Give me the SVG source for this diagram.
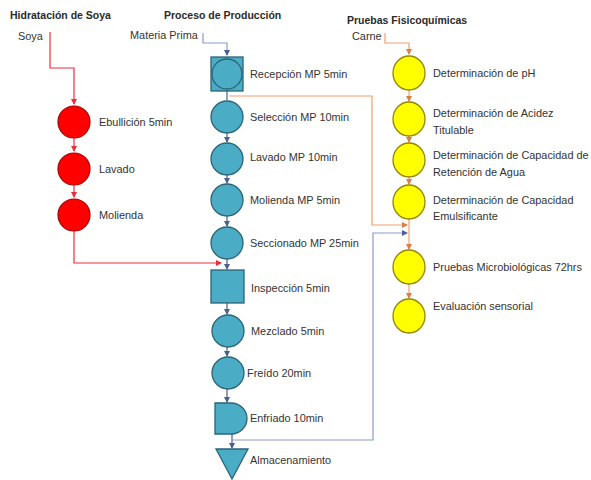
<svg xmlns="http://www.w3.org/2000/svg" width="591" height="480" viewBox="0 0 591 480">
<defs>
<style>
.t{font-family:"Liberation Sans",Arial,sans-serif;font-size:10.9px;fill:#333}
.h{font-family:"Liberation Sans",Arial,sans-serif;font-size:10.5px;font-weight:bold;fill:#2a2a2a}
.b{fill:#4BACC6;stroke:#2A6477;stroke-width:1.3}
.r{fill:#FF0000;stroke:#A80000;stroke-width:1.2}
.y{fill:#FFFF00;stroke:#958500;stroke-width:1.3}
.cr{fill:none;stroke:#E8303A;stroke-width:1.2}
.cb{fill:none;stroke:#4A6090;stroke-width:1.2}
.cbl{fill:none;stroke:#8A9CC8;stroke-width:1.2}
.co{fill:none;stroke:#F0A070;stroke-width:1.2}
</style>
<marker id="ar" markerWidth="6" markerHeight="6" refX="5" refY="3" orient="auto" markerUnits="userSpaceOnUse"><path d="M0,0 L6,3 L0,6 z" fill="#E8303A"/></marker>
<marker id="ab" markerWidth="6" markerHeight="6" refX="5" refY="3" orient="auto" markerUnits="userSpaceOnUse"><path d="M0,0 L6,3 L0,6 z" fill="#4A6090"/></marker>
<marker id="abl" markerWidth="6" markerHeight="6" refX="5" refY="3" orient="auto" markerUnits="userSpaceOnUse"><path d="M0,0 L6,3 L0,6 z" fill="#4A5FA8"/></marker>
<marker id="ao" markerWidth="6" markerHeight="6" refX="5" refY="3" orient="auto" markerUnits="userSpaceOnUse"><path d="M0,0 L6,3 L0,6 z" fill="#D8804A"/></marker>
</defs>
<rect width="591" height="480" fill="#fff"/>

<g id="titles">
<text class="h" x="10" y="19">Hidratación de Soya</text>
<text class="h" x="164" y="19">Proceso de Producción</text>
<text class="h" x="347" y="24">Pruebas Fisicoquímicas</text>
<text class="t" x="18" y="40">Soya</text>
<text class="t" x="130" y="39">Materia Prima</text>
<text class="t" x="352" y="40">Carne</text>
</g>

<g id="connectors">
<path class="cr" d="M50,32 V68 H74 V104" marker-end="url(#ar)"/>
<path class="cr" d="M74,138 V151" marker-end="url(#ar)"/>
<path class="cr" d="M74,185 V197" marker-end="url(#ar)"/>
<path class="cr" d="M74,231 V263 H221" marker-end="url(#ar)"/>

<path class="cbl" d="M203,33 V43 H227 V55" marker-end="url(#ab)"/>
<path class="cb" d="M227,91 V100"/>
<path class="cb" d="M227,133 V142" marker-end="url(#ab)"/>
<path class="cb" d="M227,175 V183" marker-end="url(#ab)"/>
<path class="cb" d="M227,216 V226" marker-end="url(#ab)"/>
<path class="cb" d="M227,259 V269" marker-end="url(#ab)"/>
<path class="cb" d="M227,303 V314" marker-end="url(#ab)"/>
<path class="cb" d="M227,347 V356" marker-end="url(#ab)"/>
<path class="cb" d="M227,389 V402" marker-end="url(#ab)"/>
<path class="cb" d="M232,434 V448" marker-end="url(#ab)"/>
<path class="cbl" d="M232,440 H373 V233 H407" marker-end="url(#abl)"/>

<path class="co" d="M229,96 H372 V225 H407" marker-end="url(#ao)"/>
<path class="co" d="M385,33 V43 H409 V54" marker-end="url(#ao)"/>
<path class="co" d="M409,90 V101" marker-end="url(#ao)"/>
<path class="co" d="M409,136 V142" marker-end="url(#ao)"/>
<path class="co" d="M409,177 V184" marker-end="url(#ao)"/>
<path class="co" d="M409,219 V249" marker-end="url(#ao)"/>
<path class="co" d="M409,284 V298" marker-end="url(#ao)"/>
</g>

<g id="ebullicion"><circle class="r" cx="74" cy="122" r="16"/><text class="t" x="99" y="126">Ebullición 5min</text></g>
<g id="lavado-soya"><circle class="r" cx="74" cy="169" r="16"/><text class="t" x="99" y="173">Lavado</text></g>
<g id="molienda-soya"><circle class="r" cx="74" cy="215" r="16"/><text class="t" x="99" y="219">Molienda</text></g>

<g id="recepcion"><rect class="b" x="211" y="57" width="32" height="34"/><circle class="b" cx="227" cy="74" r="15"/><text class="t" x="250" y="78">Recepción MP 5min</text></g>
<g id="seleccion"><circle class="b" cx="227" cy="117" r="16"/><text class="t" x="250" y="121">Selección MP 10min</text></g>
<g id="lavado-mp"><circle class="b" cx="227" cy="159" r="16"/><text class="t" x="250" y="161">Lavado MP 10min</text></g>
<g id="molienda-mp"><circle class="b" cx="227" cy="200" r="16"/><text class="t" x="250" y="204">Molienda MP 5min</text></g>
<g id="seccionado"><circle class="b" cx="227" cy="243" r="16"/><text class="t" x="250" y="247">Seccionado MP 25min</text></g>
<g id="inspeccion"><rect class="b" x="211" y="270" width="33" height="33"/><text class="t" x="251" y="292">Inspección 5min</text></g>
<g id="mezclado"><circle class="b" cx="228" cy="331" r="16"/><text class="t" x="251" y="335">Mezclado 5min</text></g>
<g id="freido"><circle class="b" cx="228" cy="373" r="16"/><text class="t" x="247" y="377">Freído 20min</text></g>
<g id="enfriado"><path class="b" d="M215,403 H231 A16,15.5 0 0 1 231,434 H215 Z"/><text class="t" x="250" y="422">Enfriado 10min</text></g>
<g id="almacenamiento"><path class="b" d="M216,449 H248 L232,479 Z"/><text class="t" x="250" y="464">Almacenamiento</text></g>

<g id="ph"><ellipse class="y" cx="409" cy="73" rx="16" ry="17"/><text class="t" x="433" y="77">Determinación de pH</text></g>
<g id="acidez"><ellipse class="y" cx="409" cy="119" rx="16" ry="17"/><text class="t" x="433" y="117">Determinación de Acidez</text><text class="t" x="433" y="134">Titulable</text></g>
<g id="retencion"><ellipse class="y" cx="409" cy="160" rx="16" ry="17"/><text class="t" x="433" y="159">Determinación de Capacidad de</text><text class="t" x="433" y="176">Retención de Agua</text></g>
<g id="emulsificante"><ellipse class="y" cx="409" cy="202" rx="16" ry="17"/><text class="t" x="433" y="204">Determinación de Capacidad</text><text class="t" x="433" y="220">Emulsificante</text></g>
<g id="microbiologicas"><ellipse class="y" cx="409" cy="267" rx="16" ry="17"/><text class="t" x="433" y="271">Pruebas Microbiológicas 72hrs</text></g>
<g id="evaluacion"><ellipse class="y" cx="409" cy="316" rx="16" ry="17"/><text class="t" x="433" y="310">Evaluación sensorial</text></g>
</svg>
